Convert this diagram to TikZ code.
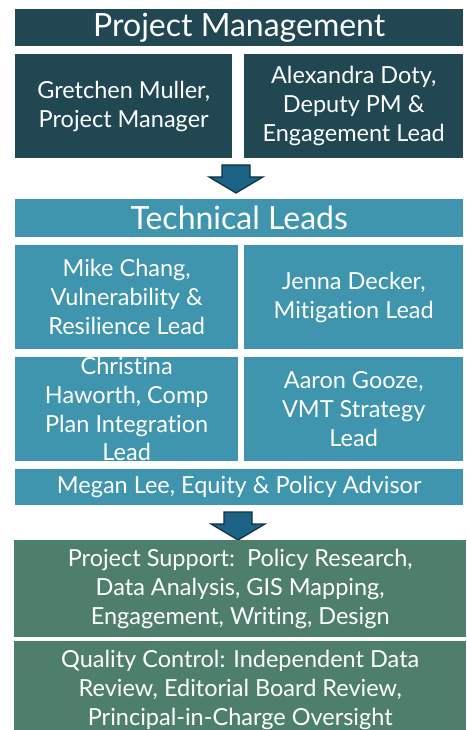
\documentclass[tikz,border=0pt]{standalone}
\usepackage{fontspec}
\setmainfont{Lato}[Ligatures={NoCommon}]
\usetikzlibrary{positioning}
\definecolor{pmteal}{RGB}{32,71,82}
\definecolor{leadblue}{RGB}{62,149,173}
\definecolor{supgreen}{RGB}{78,127,108}
\definecolor{arrowfill}{RGB}{27,98,132}
\definecolor{arrowedge}{RGB}{18,48,66}
\tikzset{
  box/.style={anchor=north west, inner sep=0pt, text=white, align=center,
    font=\fontsize{23.5}{28.8}\selectfont},
  pmbox/.style={box, fill=pmteal},
  leadbox/.style={box, fill=leadblue},
  supbox/.style={box, fill=supgreen},
  headbox/.style={font=\fontsize{32}{34}\selectfont},
  flowarrow/.style={fill=arrowfill, draw=arrowedge, line width=1.2pt, line join=miter},
  downarrow/.pic={
    \draw[flowarrow] (-14,0) -- (14,0) -- (14,12) -- (27,12) -- (0,28)
      -- (-27,12) -- (-14,12) -- cycle;
  }
}
\begin{document}
\begin{tikzpicture}[x=1pt, y=-1pt]
  \useasboundingbox (0,0) rectangle (466,730);
  % management
  \node[pmbox, headbox, minimum width=448pt, minimum height=37pt] (pm) at (15,9) {Project Management};
  \node[pmbox, minimum width=217pt, minimum height=104pt] (gm) at (15,54) {Gretchen Muller,\\Project Manager};
  \node[pmbox, minimum width=219pt, minimum height=104pt] (ad) at (244,54) {Alexandra Doty,\\Deputy PM \&\\Engagement Lead};
  \pic at (236,165) {downarrow};
  % technical leads
  \node[leadbox, headbox, minimum width=448pt, minimum height=38pt] (tl) at (15,199) {Technical Leads};
  \node[leadbox, minimum width=223pt, minimum height=104pt] (mc) at (15,245) {Mike Chang,\\Vulnerability \&\\Resilience Lead};
  \node[leadbox, minimum width=219pt, minimum height=104pt] (jd) at (244,245) {Jenna Decker,\\Mitigation Lead};
  \node[leadbox, minimum width=223pt, minimum height=104pt] (ch) at (15,357) {Christina\\Haworth, Comp\\Plan Integration\\Lead};
  \node[leadbox, minimum width=219pt, minimum height=104pt] (ag) at (244,357) {Aaron Gooze,\\VMT Strategy\\Lead};
  \node[leadbox, minimum width=448pt, minimum height=36pt] (ml) at (15,469) {Megan Lee, Equity \& Policy Advisor};
  \pic at (238,512) {downarrow};
  % support
  \node[supbox, minimum width=452pt, minimum height=97pt] (ps) at (14,540) {Project Support:\ \ Policy Research,\\Data Analysis, GIS Mapping,\\Engagement, Writing, Design};
  \node[supbox, minimum width=452pt, minimum height=97pt] (qc) at (14,641) {Quality Control: Independent Data\\Review, Editorial Board Review,\\Principal-in-Charge Oversight};
\end{tikzpicture}
\end{document}
